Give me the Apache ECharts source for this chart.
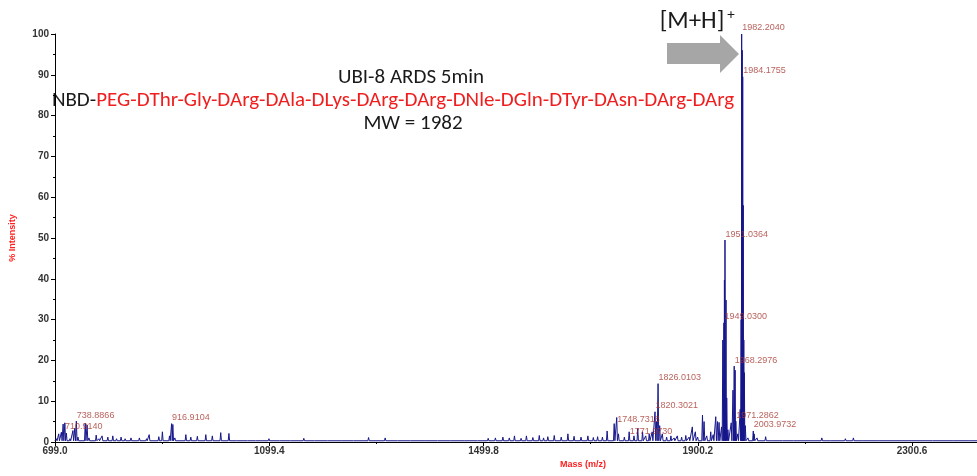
<!DOCTYPE html>
<html>
<head>
<meta charset="utf-8">
<script src="https://cdn.jsdelivr.net/npm/echarts@6/dist/echarts.min.js"></script>
<style>
  html, body { margin: 0; padding: 0; background: #ffffff; }
  #chart { width: 977px; height: 476px; }
</style>
</head>
<body>
<div id="chart"></div>
<script>
// Axis tick positions (m/z)
const xTicks = [699.0, 1099.4, 1499.8, 1900.2, 2300.6];
const xMinorTicks = [899.2, 1299.6, 1700.0, 2100.4];

// Centroid list of the spectrum: m/z and relative intensity (%)
const peakMz = [
  701.5, 706.0, 710.9140, 714.2, 717.4, 720.2, 727.0, 732.5, 736.0, 738.8866, 742.0,
  755.5, 759.0, 762.5, 776.0, 781.0, 787.0, 797.7, 807.0, 814.0, 822.5, 830.0, 841.0,
  856.7, 870.0, 875.0, 893.0, 899.7, 913.0, 916.9104, 919.2, 923.0, 943.5, 952.8, 965.0,
  980.8, 993.0, 1008.7, 1024.0, 1040.0, 1060.0, 1075.0, 1098.8, 1120.0, 1140.0, 1164.0,
  1185.0, 1210.0, 1235.0, 1258.0, 1285.0, 1316.0, 1340.0, 1365.0, 1390.0, 1415.0, 1440.0,
  1465.0, 1490.0, 1508.5, 1522.0, 1536.0, 1548.0, 1557.6, 1570.0, 1580.0, 1592.0, 1604.0,
  1612.0, 1620.0, 1632.0, 1645.0, 1657.5, 1669.0, 1682.0, 1694.8, 1705.0, 1713.0, 1722.0,
  1730.8, 1744.0, 1748.7318, 1752.0, 1763.0, 1771.9730, 1781.0, 1788.0, 1797.0, 1803.0,
  1809.5, 1815.0, 1820.3021, 1823.0, 1826.0103, 1829.0, 1834.0, 1842.0, 1850.0, 1856.0,
  1862.0, 1870.0, 1877.8, 1884.0, 1890.0, 1895.7, 1900.0, 1909.0, 1912.0, 1917.0, 1924.4,
  1929.0, 1933.8, 1937.0, 1940.0, 1944.7, 1947.0, 1949.0300, 1950.0, 1951.0364, 1953.0,
  1954.3, 1956.5, 1962.7, 1966.0, 1968.2976, 1970.0, 1971.2862, 1975.0, 1979.5, 1981.2,
  1982.2040, 1983.2, 1984.1755, 1985.2, 1986.2, 1987.2, 1989.0, 1994.0, 2003.9732, 2005.5,
  2011.0, 2027.0, 2040.0, 2060.0, 2080.0, 2100.0, 2132.0, 2150.0, 2176.0, 2191.0, 2210.0,
  2240.0, 2270.0, 2300.0, 2340.0, 2380.0, 2410.0
];
const peakIntensity = [
  0.8, 2.0, 2.4, 4.4, 4.7, 2.2, 0.8, 2.8, 3.4, 5.1, 1.2,
  4.6, 4.2, 1.0, 1.7, 0.8, 1.5, 1.2, 1.5, 0.8, 1.2, 0.8, 1.0,
  1.0, 0.8, 1.8, 1.3, 2.5, 1.5, 4.5, 4.3, 1.0, 1.8, 1.2, 1.4,
  1.8, 1.5, 2.3, 2.1, 0.7, 0.6, 0.7, 0.8, 0.6, 0.6, 0.9,
  0.6, 0.6, 0.6, 0.6, 1.1, 1.0, 0.6, 0.6, 0.7, 0.6, 0.6,
  0.7, 0.7, 0.9, 1.0, 1.2, 1.0, 1.5, 0.9, 1.5, 1.1, 1.6,
  1.0, 1.3, 1.6, 1.2, 2.0, 1.4, 1.2, 1.5, 1.1, 1.3, 1.2,
  2.7, 4.5, 6.0, 2.0, 1.2, 2.5, 1.5, 3.3, 2.5, 1.5,
  2.0, 2.5, 7.4, 5.0, 14.3, 4.0, 2.0, 1.2, 1.5, 1.0,
  1.5, 1.2, 1.6, 1.2, 3.7, 2.5, 1.2, 6.6, 5.0, 1.5, 2.5,
  1.8, 6.2, 5.0, 4.8, 3.7, 25.0, 29.2, 39.7, 49.5, 34.8,
  10.8, 3.0, 4.7, 12.7, 18.6, 17.6, 5.1, 2.0, 8.0, 30.0,
  100.0, 96.0, 89.5, 58.0, 25.0, 17.0, 4.0, 1.0, 2.7, 2.0,
  1.0, 1.3, 0.6, 0.6, 0.7, 0.6, 1.0, 0.7, 0.8, 1.0, 0.5,
  0.5, 0.5, 0.5, 0.5, 0.5, 0.5
];

// Peaks annotated with their m/z
const labeledMz = [
  710.9140, 738.8866, 916.9104, 1748.7318, 1771.9730, 1820.3021, 1826.0103,
  1949.0300, 1951.0364, 1968.2976, 1971.2862, 1982.2040, 1984.1755, 2003.9732
];

const sampleName = 'UBI-8 ARDS 5min';
const sequenceCap = 'NBD-';
const sequenceRest = 'PEG-DThr-Gly-DArg-DAla-DLys-DArg-DArg-DNle-DGln-DTyr-DAsn-DArg-DArg';
const massNote = 'MW = 1982';

// Build the profile trace: each centroid rises from the baseline to its apex
const BASE = 0.3;
const profile = [[699.0, BASE]];
for (let i = 0; i < peakMz.length; i++) {
  const m = peakMz[i];
  const prev = i > 0 ? peakMz[i - 1] : m - 4;
  const next = i < peakMz.length - 1 ? peakMz[i + 1] : m + 4;
  const hl = Math.min(1.3, (m - prev) / 2);
  const hr = Math.min(1.3, (next - m) / 2);
  profile.push([m - hl, BASE], [m, peakIntensity[i]], [m + hr, BASE]);
}
profile.push([2422, BASE]);

// Small per-label nudges where labels sit beside rather than above the apex
const labelNudge = { '710.914': [3, -6], '1748.7318': [0, 2], '1771.973': [0, 0] };

const labelData = labeledMz.map(m => {
  const off = labelNudge[String(m)] || [0, -6];
  return {
    value: [m, peakIntensity[peakMz.indexOf(m)]],
    label: { offset: off }
  };
});

const axisFont = { fontFamily: 'Liberation Sans, Arial, sans-serif', fontWeight: 'bold', fontSize: 10, color: '#333333' };
const titleFont = 'Carlito, Lato, sans-serif';

const chart = echarts.init(document.getElementById('chart'), null, { renderer: 'canvas' });
chart.setOption({
  animation: false,
  backgroundColor: '#ffffff',
  grid: { left: 52, right: 0, top: 34, bottom: 34, containLabel: false },
  xAxis: [{
    type: 'value', min: 699.0, max: 2422,
    axisLine: { show: true, lineStyle: { color: '#000000', width: 1 } },
    axisTick: { show: true, customValues: xTicks, length: 4, lineStyle: { color: '#000000' } },
    axisLabel: Object.assign({ customValues: xTicks, margin: 4, formatter: v => v.toFixed(1) }, axisFont),
    splitLine: { show: false }
  }, {
    type: 'value', min: 699.0, max: 2422, position: 'bottom',
    axisLine: { show: false },
    axisTick: { show: true, customValues: xMinorTicks, length: 2, lineStyle: { color: '#000000' } },
    axisLabel: { show: false },
    splitLine: { show: false }
  }],
  yAxis: {
    type: 'value', min: 0, max: 100, interval: 10,
    name: '% Intensity', nameLocation: 'middle', nameGap: 38, nameRotate: 90,
    nameTextStyle: { color: '#ff2020', fontWeight: 'bold', fontSize: 9, fontFamily: 'Liberation Sans, Arial, sans-serif' },
    axisLine: { show: true, lineStyle: { color: '#000000', width: 1 } },
    axisTick: { show: true, length: 4, lineStyle: { color: '#000000' } },
    minorTick: { show: true, splitNumber: 2, length: 2, lineStyle: { color: '#000000' } },
    axisLabel: Object.assign({ margin: 6 }, axisFont),
    splitLine: { show: false }
  },
  series: [{
    type: 'line',
    data: profile,
    showSymbol: false,
    symbol: 'none',
    sampling: false,
    lineStyle: { color: '#17178c', width: 1 },
    silent: true,
    z: 2
  }, {
    type: 'scatter',
    data: labelData,
    symbolSize: 1,
    itemStyle: { color: 'rgba(0,0,0,0)' },
    silent: true,
    z: 3,
    label: {
      show: true, position: 'right', distance: 0,
      formatter: p => p.value[0].toFixed(4),
      color: '#a83a32', fontSize: 9, fontFamily: 'Liberation Sans, Arial, sans-serif'
    }
  }],
  graphic: [
    { type: 'text', x: 583, y: 465, style: { text: 'Mass (m/z)', fill: '#ff2020', font: 'bold 9px "Liberation Sans", Arial, sans-serif', textAlign: 'center', textVerticalAlign: 'middle' } },
    { type: 'text', x: 411, y: 78, style: { text: sampleName, fill: '#1a1a1a', font: '21px ' + titleFont, textAlign: 'center', textVerticalAlign: 'middle' } },
    { type: 'text', x: 393, y: 101, style: {
        text: '{k|' + sequenceCap + '}{r|' + sequenceRest + '}',
        textAlign: 'center', textVerticalAlign: 'middle',
        rich: {
          k: { fill: '#1a1a1a', fontSize: 21, fontFamily: titleFont },
          r: { fill: '#f01e1e', fontSize: 21, fontFamily: titleFont }
        }
    } },
    { type: 'text', x: 413, y: 124, style: { text: massNote, fill: '#1a1a1a', font: '21px ' + titleFont, textAlign: 'center', textVerticalAlign: 'middle' } },
    { type: 'text', x: 692, y: 22, style: { text: '[M+H]', fill: '#1a1a1a', font: '25px ' + titleFont, textAlign: 'center', textVerticalAlign: 'middle' } },
    { type: 'text', x: 731, y: 15, style: { text: '+', fill: '#1a1a1a', font: '15px ' + titleFont, textAlign: 'center', textVerticalAlign: 'middle' } },
    { type: 'polygon', shape: { points: [[667, 43], [720, 43], [720, 35], [739, 54], [720, 73], [720, 64], [667, 64]] }, style: { fill: '#a6a6a6' } }
  ]
});
</script>
</body>
</html>
